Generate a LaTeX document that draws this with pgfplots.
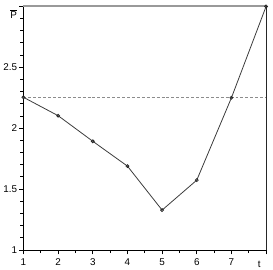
\documentclass[border=0pt]{standalone}
\usepackage{fontspec}
\setmainfont{Liberation Sans}
\usepackage{pgfplots}
\pgfplotsset{compat=1.18}
\definecolor{lineg}{HTML}{3A3A3A}
\definecolor{dashg}{HTML}{8C8C8C}
\definecolor{topg}{HTML}{999999}
\begin{document}
\begin{tikzpicture}
\begin{axis}[
  scale only axis, width=246pt, height=247pt,
  xmin=1, xmax=8, ymin=1, ymax=3,
  axis x line=bottom, axis y line=left, axis line style={-, black, line width=1pt},
  xtick={1,2,3,4,5,6,7,8}, xticklabels={1,2,3,4,5,6,7,{}},
  minor x tick num=1,
  ytick={1,1.5,2,2.5,3}, yticklabels={1,1.5,2,2.5,{}},
  minor y tick num=4,
  tick align=outside, major tick length=4.5pt, minor tick length=3pt,
  every tick/.style={black, line width=1pt},
  ticklabel style={font=\fontsize{10}{12}\selectfont},
  /pgf/number format/assume math mode=true,
  xticklabel style={yshift=-1pt},
  yticklabel style={xshift=1.5pt},
  clip=false,
]
\addplot[dashg, line width=1pt, dash pattern=on 3pt off 2pt] coordinates {(1,2.25) (8,2.25)};
\addplot[topg, line width=2pt] coordinates {(1,3) (8,3)};
\addplot[black!85, line width=1pt] coordinates {(8,1) (8,3)};
\addplot[lineg, line width=0.8pt, mark=o, mark size=1.5pt, mark options={line width=0.8pt, black!85}] coordinates {
  (1,2.254) (2,2.103) (3,1.893) (4,1.689) (5,1.328) (6,1.574) (7,2.25) (8,3.0)
};
\node[font=\fontsize{10}{12}\selectfont, inner sep=0pt] at ([xshift=-10pt,yshift=-8pt]rel axis cs:0,1) {$\overline{\mbox{P}}$};
\node[font=\fontsize{10}{12}\selectfont, inner sep=0pt] at ([xshift=-7pt,yshift=-14pt]rel axis cs:1,0) {t};
\path ([xshift=-20pt,yshift=-19.5pt]rel axis cs:0,0) rectangle ([xshift=7pt,yshift=6.5pt]rel axis cs:1,1);
\end{axis}
\end{tikzpicture}
\end{document}
